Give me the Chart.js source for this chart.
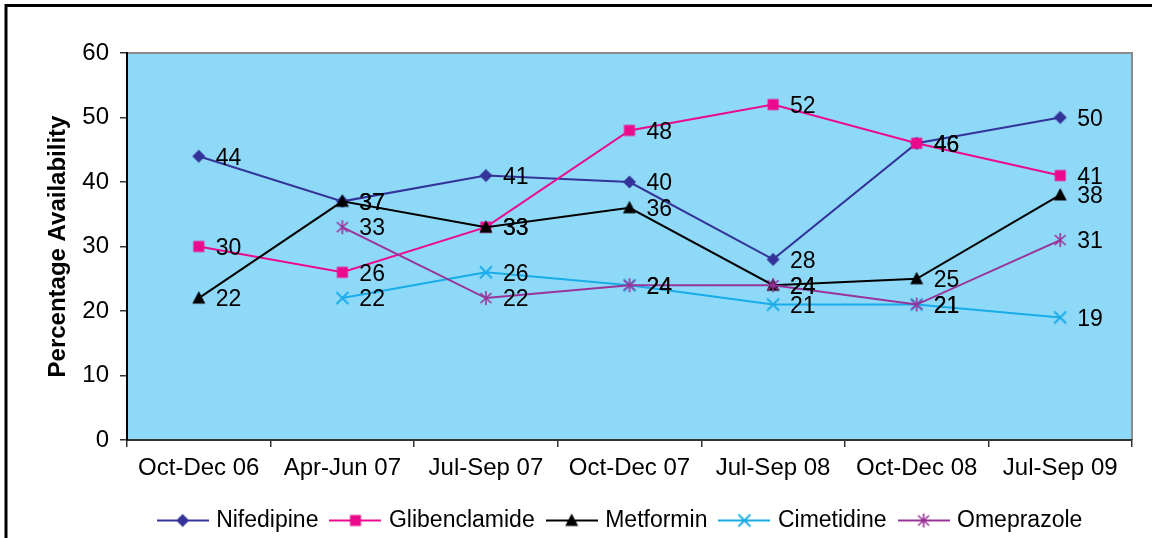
<!DOCTYPE html>
<html>
<head>
<meta charset="utf-8">
<script src="https://cdn.jsdelivr.net/npm/chart.js@4/dist/chart.umd.min.js"></script>
<style>
  html, body { margin: 0; padding: 0; background: #fff; }
  #wrap { width: 1152px; height: 538px; position: relative; }
</style>
</head>
<body>
<div id="wrap"><canvas id="availChart" width="1152" height="538"></canvas></div>
<script>
const FONT = '"Liberation Sans", Arial, sans-serif';

const periods = ['Oct-Dec 06', 'Apr-Jun 07', 'Jul-Sep 07', 'Oct-Dec 07', 'Jul-Sep 08', 'Oct-Dec 08', 'Jul-Sep 09'];
const nifedipine = [44, 37, 41, 40, 28, 46, 50];
const glibenclamide = [30, 26, 33, 48, 52, 46, 41];
const metformin = [22, 37, 33, 36, 24, 25, 38];
const cimetidine = [null, 22, 26, 24, 21, 21, 19];
const omeprazole = [null, 33, 22, 24, 24, 21, 31];
const yTicks = [0, 10, 20, 30, 40, 50, 60];

const series = [
    { label: 'Nifedipine', data: nifedipine, color: '#333399', marker: 'diamond' },
    { label: 'Glibenclamide', data: glibenclamide, color: '#EC0A8C', marker: 'square' },
    { label: 'Metformin', data: metformin, color: '#000000', marker: 'triangle' },
    { label: 'Cimetidine', data: cimetidine, color: '#18ACE8', marker: 'x' },
    { label: 'Omeprazole', data: omeprazole, color: '#993399', marker: 'star' }
];

// marker shapes drawn on small canvases, reused for the points and the legend
function drawMarker(ctx, kind, x, y, color) {
    ctx.fillStyle = color;
    ctx.strokeStyle = color;
    ctx.beginPath();
    if (kind === 'diamond') {
        ctx.moveTo(x, y - 6.5); ctx.lineTo(x + 6.5, y); ctx.lineTo(x, y + 6.5); ctx.lineTo(x - 6.5, y);
        ctx.closePath(); ctx.fill();
    } else if (kind === 'square') {
        ctx.rect(x - 5.5, y - 5.5, 11, 11); ctx.fill();
    } else if (kind === 'triangle') {
        ctx.moveTo(x, y - 7); ctx.lineTo(x + 6.5, y + 5.5); ctx.lineTo(x - 6.5, y + 5.5);
        ctx.closePath(); ctx.fill();
    } else if (kind === 'x') {
        ctx.lineWidth = 1.8;
        ctx.moveTo(x - 6, y - 6); ctx.lineTo(x + 6, y + 6);
        ctx.moveTo(x + 6, y - 6); ctx.lineTo(x - 6, y + 6);
        ctx.stroke();
    } else if (kind === 'star') {
        ctx.lineWidth = 1.6;
        ctx.moveTo(x - 5.5, y - 5); ctx.lineTo(x + 5.5, y + 5);
        ctx.moveTo(x + 5.5, y - 5); ctx.lineTo(x - 5.5, y + 5);
        ctx.moveTo(x, y - 7); ctx.lineTo(x, y + 7);
        ctx.stroke();
    }
}

function markerImage(kind, color) {
    const c = document.createElement('canvas');
    c.width = 18; c.height = 18;
    drawMarker(c.getContext('2d'), kind, 9, 9, color);
    return c;
}

function legendImage(kind, color) {
    const c = document.createElement('canvas');
    c.width = 52; c.height = 18;
    const ctx = c.getContext('2d');
    ctx.strokeStyle = color;
    ctx.lineWidth = 2;
    ctx.beginPath(); ctx.moveTo(0, 9); ctx.lineTo(52, 9); ctx.stroke();
    drawMarker(ctx, kind, 26, 9, color);
    return c;
}

const frameAndPlot = {
    id: 'frameAndPlot',
    afterLayout(chart) {
        // nudge the legend row a little to the left
        chart.legend.left -= 8;
        chart.legend.right -= 8;
    },
    beforeDraw(chart) {
        const { ctx, chartArea: a } = chart;
        ctx.save();
        ctx.fillStyle = '#8ED8F8';
        ctx.fillRect(a.left, a.top, a.right - a.left, a.bottom - a.top);
        ctx.strokeStyle = '#8a8a8a';
        ctx.lineWidth = 2;
        ctx.beginPath();
        ctx.moveTo(a.left, a.top); ctx.lineTo(a.right, a.top); ctx.lineTo(a.right, a.bottom);
        ctx.stroke();
        // outer frame of the figure
        ctx.strokeStyle = '#000';
        ctx.lineWidth = 3;
        ctx.strokeRect(6, 5.5, 1400, 700);
        ctx.restore();
    }
};

const valueLabels = {
    id: 'valueLabels',
    afterDatasetsDraw(chart) {
        const ctx = chart.ctx;
        ctx.save();
        ctx.font = '23px ' + FONT;
        ctx.fillStyle = '#000';
        ctx.textAlign = 'left';
        ctx.textBaseline = 'middle';
        chart.data.datasets.forEach((ds, i) => {
            const meta = chart.getDatasetMeta(i);
            meta.data.forEach((pt, j) => {
                const v = ds.data[j];
                if (v === null || v === undefined) return;
                ctx.fillText(String(v), pt.x + 17, pt.y + 2);
            });
        });
        ctx.restore();
    }
};

new Chart(document.getElementById('availChart'), {
    type: 'line',
    data: {
        labels: periods,
        datasets: series.map((s, i) => ({
            label: s.label,
            data: s.data,
            borderColor: s.color,
            backgroundColor: s.color,
            borderWidth: 2,
            tension: 0,
            pointStyle: markerImage(s.marker, s.color),
            pointRadius: 7,
            order: series.length - 1 - i,
            marker: s.marker
        }))
    },
    options: {
        responsive: false,
        animation: false,
        layout: { padding: { left: 8, top: 53, right: 20, bottom: -4 } },
        plugins: {
            tooltip: { enabled: false },
            legend: {
                position: 'bottom',
                fullSize: false,
                labels: {
                    usePointStyle: true,
                    pointStyleWidth: 44,
                    boxHeight: 18,
                    padding: 15,
                    color: '#000',
                    font: { family: FONT, size: 23 },
                    generateLabels(chart) {
                        return chart.data.datasets.map((ds, i) => ({
                            text: ds.label,
                            datasetIndex: i,
                            fillStyle: ds.borderColor,
                            strokeStyle: ds.borderColor,
                            lineWidth: 0,
                            hidden: false,
                            pointStyle: legendImage(ds.marker, ds.borderColor)
                        }));
                    }
                }
            }
        },
        scales: {
            x: {
                offset: true,
                grid: { display: true, offset: true, drawOnChartArea: false, drawTicks: true, tickLength: 7, color: '#333', lineWidth: 1.5 },
                border: { display: true, color: '#333', width: 2 },
                ticks: { color: '#000', padding: 7, maxRotation: 0, font: { family: FONT, size: 24 } },
                afterFit(scale) { scale.height = 54; }
            },
            y: {
                min: 0,
                max: 60,
                afterBuildTicks(scale) { scale.ticks = yTicks.map(v => ({ value: v })); },
                grid: { display: true, drawOnChartArea: false, drawTicks: true, tickLength: 7, color: '#333', lineWidth: 1.5 },
                border: { display: true, color: '#000', width: 2 },
                ticks: { color: '#000', padding: 11, font: { family: FONT, size: 24 } },
                title: {
                    display: true,
                    text: 'Percentage Availability',
                    color: '#000',
                    padding: { top: 36, bottom: 0 },
                    font: { family: FONT, size: 24, weight: 'bold' }
                },
                afterFit(scale) { scale.width = 119; }
            }
        }
    },
    plugins: [frameAndPlot, valueLabels]
});
</script>
</body>
</html>
